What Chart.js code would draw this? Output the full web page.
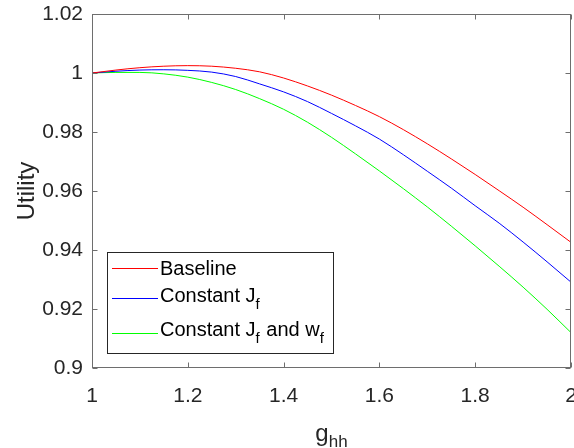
<!DOCTYPE html>
<html>
<head>
<meta charset="utf-8">
<script src="https://cdn.jsdelivr.net/npm/chart.js@4.4.1/dist/chart.umd.min.js"></script>
<style>
html,body{margin:0;padding:0;background:#fff;}
#wrap{position:relative;width:574px;height:448px;}
</style>
</head>
<body>
<div id="wrap"><canvas id="c" width="574" height="448"></canvas></div>
<script>
// ---- data ----
const gValues = [1.00,1.05,1.10,1.15,1.20,1.25,1.30,1.35,1.40,1.45,1.50,1.55,1.60,1.65,1.70,1.75,1.80,1.85,1.90,1.95,2.00];
const baselineUtility = [1.0000,1.0010,1.0018,1.0023,1.0025,1.0023,1.0016,1.0004,0.9983,0.9956,0.9925,0.9890,0.9852,0.9808,0.9760,0.9709,0.9656,0.9601,0.9545,0.9486,0.9426];
const constJfUtility = [1.0000,1.0006,1.0010,1.0011,1.0009,1.0003,0.9988,0.9963,0.9936,0.9903,0.9863,0.9821,0.9776,0.9723,0.9667,0.9610,0.9550,0.9491,0.9427,0.9360,0.9291];
const constJfWfUtility = [1.0000,1.0002,1.0002,0.9997,0.9986,0.9968,0.9944,0.9913,0.9877,0.9833,0.9782,0.9726,0.9668,0.9608,0.9546,0.9481,0.9414,0.9345,0.9274,0.9199,0.9120];
const xTickValues = [1,1.2,1.4,1.6,1.8,2];
const xTickLabels = ['1','1.2','1.4','1.6','1.8','2'];
const yTickValues = [0.9,0.92,0.94,0.96,0.98,1,1.02];
const yTickLabels = ['0.9','0.92','0.94','0.96','0.98','1','1.02'];
const seriesNames = [['Baseline'],['Constant J','f'],['Constant J','f',' and w','f']];
const seriesColors = ['#ff0000','#0000ff','#00ff00'];

const FONT = "'Liberation Sans', Arial, Helvetica, sans-serif";
const toXY = arr => gValues.map((g,i)=>({x:g,y:arr[i]}));

const framePlugin = {
  id:'frame',
  afterDraw(chart){
    const ctx = chart.ctx, ca = chart.chartArea;
    const xs = chart.scales.x, ys = chart.scales.y;
    ctx.save();
    // box
    ctx.strokeStyle = '#6e6e6e';
    ctx.lineWidth = 1;
    const L = Math.round(ca.left)+0.5, R = Math.round(ca.right)-0.5, T = Math.round(ca.top)+0.5, B = Math.round(ca.bottom)-0.5;
    ctx.strokeRect(L, T, R-L, B-T);
    // ticks (inward)
    const tl = 5;
    ctx.beginPath();
    xTickValues.forEach(v=>{
      const p = Math.round(xs.getPixelForValue(v))+0.5;
      ctx.moveTo(p,B); ctx.lineTo(p,B-tl);
      ctx.moveTo(p,T); ctx.lineTo(p,T+tl);
    });
    yTickValues.forEach(v=>{
      const p = Math.round(ys.getPixelForValue(v))+0.5;
      ctx.moveTo(L,p); ctx.lineTo(L+tl,p);
      ctx.moveTo(R,p); ctx.lineTo(R-tl,p);
    });
    ctx.stroke();

    // axis titles
    ctx.fillStyle = '#262626';
    ctx.textBaseline = 'alphabetic';
    const cx = (ca.left+ca.right)/2;
    ctx.font = '24px '+FONT;
    const gW = ctx.measureText('g').width;
    ctx.font = '17px '+FONT;
    const hW = ctx.measureText('hh').width;
    const x0 = cx - (gW+hW)/2;
    ctx.font = '24px '+FONT;
    ctx.textAlign = 'left';
    ctx.fillText('g', x0, 441);
    ctx.font = '17px '+FONT;
    ctx.fillText('hh', x0+gW, 447);

    ctx.save();
    ctx.translate(34, (ca.top+ca.bottom)/2);
    ctx.rotate(-Math.PI/2);
    ctx.font = '24px '+FONT;
    ctx.textAlign = 'center';
    ctx.fillText('Utility', 0, 0);
    ctx.restore();

    // legend
    const lx = ca.left + 15, ly = ca.bottom - 116, lw = 226, lh = 101;
    ctx.fillStyle = '#fff';
    ctx.fillRect(lx, ly, lw, lh);
    ctx.strokeStyle = '#262626';
    ctx.strokeRect(Math.round(lx)+0.5, Math.round(ly)+0.5, lw, lh);
    const rowLineY = [ly+15.5, ly+46, ly+81];
    const rowTextY = [ly+23, ly+50, ly+84];
    seriesNames.forEach((parts,i)=>{
      ctx.strokeStyle = seriesColors[i];
      ctx.lineWidth = 1;
      ctx.beginPath();
      ctx.moveTo(lx+5, Math.round(rowLineY[i])+0.5);
      ctx.lineTo(lx+51, Math.round(rowLineY[i])+0.5);
      ctx.stroke();
      let tx = lx+53;
      ctx.fillStyle = '#000';
      parts.forEach((p,k)=>{
        const sub = (k%2===1);
        ctx.font = (sub?'15px ':'20px ')+FONT;
        ctx.fillText(p, tx, rowTextY[i] + (sub?7:0));
        tx += ctx.measureText(p).width + (sub?1:0);
      });
    });
    ctx.restore();
  }
};

new Chart(document.getElementById('c'), {
  type:'line',
  data:{
    datasets:[
      {label:'Baseline', data:toXY(baselineUtility), borderColor:seriesColors[0], borderWidth:1, pointRadius:0, cubicInterpolationMode:'monotone', fill:false},
      {label:'Constant Jf', data:toXY(constJfUtility), borderColor:seriesColors[1], borderWidth:1, pointRadius:0, cubicInterpolationMode:'monotone', fill:false},
      {label:'Constant Jf and wf', data:toXY(constJfWfUtility), borderColor:seriesColors[2], borderWidth:1, pointRadius:0, cubicInterpolationMode:'monotone', fill:false}
    ]
  },
  options:{
    responsive:false,
    animation:false,
    devicePixelRatio:1,
    layout:{padding:{left:0,top:14,right:3,bottom:0}},
    plugins:{legend:{display:false}, tooltip:{enabled:false}},
    scales:{
      x:{
        type:'linear', min:1, max:2,
        afterBuildTicks(s){ s.ticks = xTickValues.map(v=>({value:v})); },
        afterFit(s){ s.height = 80; s.paddingLeft = 0; s.paddingRight = 0; },
        grid:{display:false, drawTicks:false}, border:{display:false},
        ticks:{padding:16, color:'#262626', font:{family:FONT,size:21}, maxRotation:0,
          callback:(v,i)=>xTickLabels[i]}
      },
      y:{
        type:'linear', min:0.9, max:1.02,
        afterBuildTicks(s){ s.ticks = yTickValues.map(v=>({value:v})); },
        afterFit(s){ s.width = 92; s.paddingTop = 0; s.paddingBottom = 0; },
        grid:{display:false, drawTicks:false}, border:{display:false},
        ticks:{padding:9, color:'#262626', font:{family:FONT,size:21},
          callback:(v,i)=>yTickLabels[i]}
      }
    }
  },
  plugins:[framePlugin]
});
</script>
</body>
</html>
